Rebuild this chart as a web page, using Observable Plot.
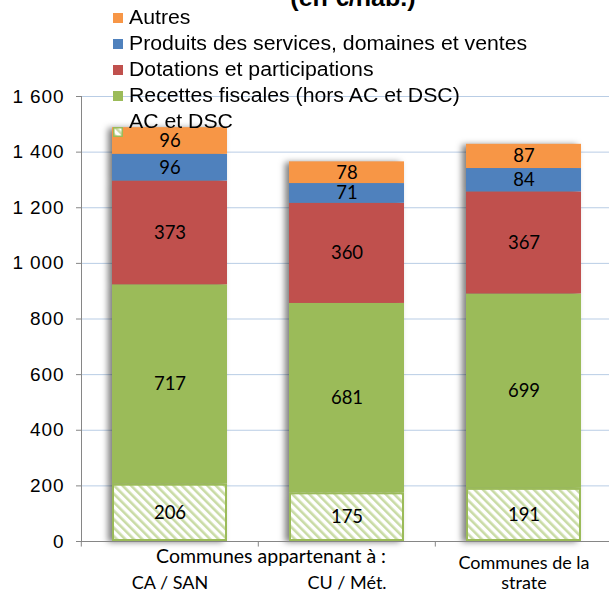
<!DOCTYPE html>
<html><head><meta charset="utf-8">
<script src="https://cdn.jsdelivr.net/npm/d3@7"></script>
<script src="https://cdn.jsdelivr.net/npm/@observablehq/plot@0.6"></script>
<style>
body{margin:0;background:#fff;}
#wrap{position:relative;width:609px;height:594px;overflow:hidden;font-family:"Liberation Sans",Arial,sans-serif;}
#wrap svg.plot{position:absolute;left:0;top:0;}
#title{position:absolute;top:-13px;left:353px;transform:translateX(-50%) scaleX(1.09);font:bold 23px/23px "Liberation Sans",Arial,sans-serif;white-space:nowrap;color:#000;}
#legend{position:absolute;left:113px;top:4px;}
.lrow{position:relative;height:26px;line-height:26px;font-size:19.5px;font-family:"Liberation Sans",Arial,sans-serif;white-space:nowrap;color:#000;}
.lsw{position:absolute;left:0;top:9px;width:10px;height:10px;}
.ltx{position:absolute;left:16px;top:0;transform:scaleX(1.09);transform-origin:left center;}
</style></head><body><div id="wrap"></div>
<script>
const categories = ["CA / SAN", "CU / Mét.", "Communes de la strate"];
const categoryLabels = ["CA / SAN", "CU / Mét.", "Communes de la\nstrate"];
const groupLabel = "Communes appartenant à :";
const title = "(en €/hab.)";
const series = ["AC et DSC", "Recettes fiscales (hors AC et DSC)", "Dotations et participations", "Produits des services, domaines et ventes", "Autres"];
const acDsc = [206, 175, 191];
const recettesFiscales = [717, 681, 699];
const dotations = [373, 360, 367];
const produits = [96, 71, 84];
const autres = [96, 78, 87];
const yTicks = [0, 200, 400, 600, 800, 1000, 1200, 1400, 1600];
const colors = ["url(#hatch)", "#9BBB59", "#C0504D", "#4F81BD", "#F79646"];

const valuesBySeries = [acDsc, recettesFiscales, dotations, produits, autres];
const data = categories.flatMap((c, i) => series.map((s, j) => ({cat: c, series: s, value: valuesBySeries[j][i]})));
const gray = "#868686";

const chart = Plot.plot({
  width: 609, height: 594,
  marginTop: 96, marginBottom: 53, marginLeft: 81, marginRight: -4,
  style: {background: "transparent", overflow: "visible"},
  x: {domain: categories, paddingInner: 0.35, paddingOuter: 0.175, axis: null},
  y: {domain: [0, 1600], axis: null},
  color: {domain: series, range: colors},
  marks: [
    Plot.gridY(yTicks, {stroke: "#b9cde5", strokeOpacity: 1}),
    Plot.axisY(yTicks, {tickSize: 5, tickPadding: 12, stroke: gray, strokeOpacity: 1, fill: "#000", fontSize: 19, fontFamily: "Liberation Sans, Arial, sans-serif", label: null,
      tickFormat: d => d3.format(",")(d).replace(/,/g, " ")}),
    Plot.barY(data, {x: "cat", y: "value", fill: "series"}),
    Plot.barY(data.filter(d => d.series === series[0]), {x: "cat", y: "value", fill: "none", stroke: "#9BBB59", strokeWidth: 2, inset: 1}),
    Plot.text(data, Plot.stackY({x: "cat", y: "value", z: "series", text: d => String(d.value), fontSize: 18.5, fontFamily: "Lato, sans-serif", fill: "#000"})),
    Plot.frame({anchor: "left", stroke: gray}),
    Plot.ruleY([0], {stroke: gray}),
    Plot.ruleX(categories, {x: d => d, dx: -88.7, y1: 0, y2: -20, stroke: gray}),
    Plot.text(categories, {x: d => d, text: (d, i) => categoryLabels[i], frameAnchor: "bottom", dy: 47, lineAnchor: "bottom", lineHeight: 1.08, fontSize: 18, fontFamily: "Lato, sans-serif", fill: "#000"}),
    Plot.text([groupLabel], {x: () => categories[0], frameAnchor: "bottom", dx: 101, dy: 21, lineAnchor: "bottom", fontSize: 19.5, fontFamily: "Lato, sans-serif", fill: "#000"})
  ]
});

const svg = d3.select(chart);
svg.insert("defs", ":first-child").html(
  `<pattern id="hatch" patternUnits="userSpaceOnUse" width="6" height="6" patternTransform="rotate(-45)">
     <rect width="6" height="6" fill="#fff"/><rect width="2.6" height="6" fill="#c9dba5"/></pattern>`);
const barGroups = svg.selectAll('g[aria-label="bar"]').nodes();
if (barGroups.length) d3.select(barGroups[0]).style("filter", "drop-shadow(-4px 1px 3px rgba(0,0,0,0.5))");
svg.selectAll('g[aria-label="y-axis tick label"] text').style("letter-spacing", "0.9px");

const wrap = document.getElementById("wrap");
wrap.appendChild(chart);

const t = document.createElement("div");
t.id = "title"; t.textContent = title;
wrap.appendChild(t);

const legend = document.createElement("div");
legend.id = "legend";
series.slice().reverse().forEach((s) => {
  const j = series.indexOf(s);
  const row = document.createElement("div");
  row.className = "lrow";
  const sw = document.createElement("div");
  sw.className = "lsw";
  if (j === 0) {
    sw.innerHTML = `<svg width="10" height="10"><rect x="0.75" y="0.75" width="8.5" height="8.5" fill="url(#hatch)" stroke="#9BBB59" stroke-width="1.5"/></svg>`;
  } else {
    sw.style.background = colors[j];
  }
  const tx = document.createElement("span");
  tx.className = "ltx";
  tx.textContent = s;
  row.appendChild(sw); row.appendChild(tx);
  legend.appendChild(row);
});
wrap.appendChild(legend);
</script></body></html>
